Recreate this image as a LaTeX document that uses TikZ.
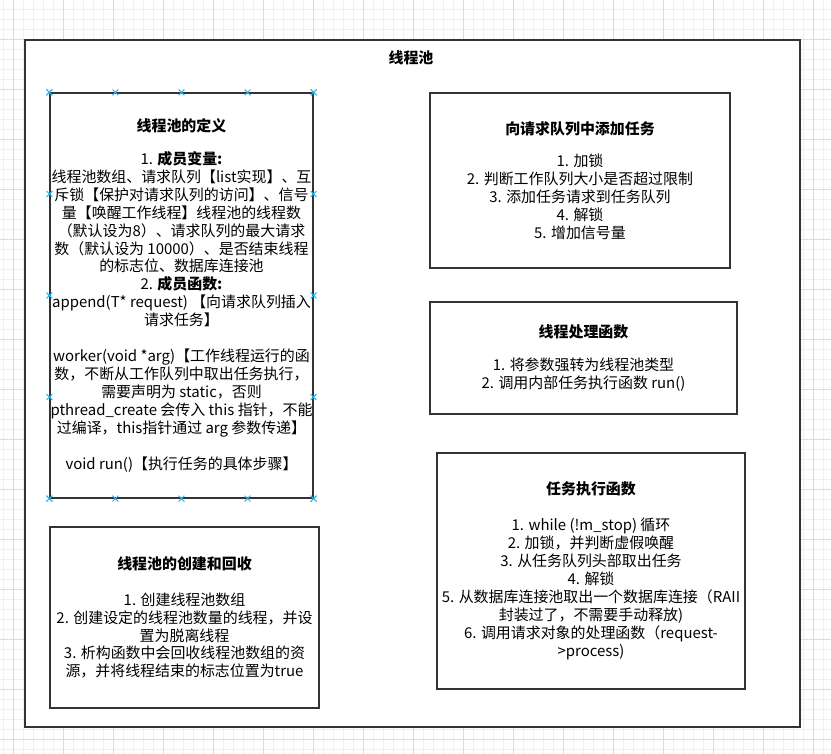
\documentclass[tikz,border=0pt]{standalone}
\usepackage{fontspec}
\setmainfont{Noto Sans CJK SC}
\usetikzlibrary{calc}
\definecolor{handleblue}{HTML}{29B6F2}
\definecolor{gridminor}{HTML}{F0F0F0}
\definecolor{gridmajor}{HTML}{DCDCDC}

\begin{document}
\begin{tikzpicture}[x=1in,y=1in,
  panel/.style={draw=black!80, line width=0.9pt, fill=white, align=center,
    inner sep=0pt, font=\fontsize{11.25}{13.5}\selectfont},
  handle/.style={handleblue, line width=0.7pt}]
\useasboundingbox (0,0) rectangle (8.6563,7.8542);
\fill[white] (0,0) rectangle (8.6563,7.8542);
% grid
\foreach \gx in {3,13,...,823}
  \draw[gridminor, line width=0.5pt] ({\gx/96},0) -- ({\gx/96},7.8542);
\foreach \gy in {9,19,...,749}
  \draw[gridminor, line width=0.5pt] (0,{(754-\gy)/96}) -- (8.6563,{(754-\gy)/96});
\foreach \gx in {13,63,...,813}
  \draw[gridmajor, line width=0.5pt] ({\gx/96},0) -- ({\gx/96},7.8542);
\foreach \gy in {39,89,...,739}
  \draw[gridmajor, line width=0.5pt] (0,{(754-\gy)/96}) -- (8.6563,{(754-\gy)/96});
% outer frame
\node[panel, minimum width=8.0729in, minimum height=7.1563in] (pool) at (4.2969,3.8594) {};
\node[font=\bfseries\fontsize{11.25}{13.5}\selectfont] (pooltitle) at (4.2813,7.2500) {线程池};
% left column
\node[panel, minimum width=2.7396in, minimum height=4.2188in] (defn) at (1.8906,4.7760) {%
\textbf{线程池的定义}\\[11pt]
1. \textbf{成员变量:}\\
线程池数组、请求队列【list实现】、互\\
斥锁【保护对请求队列的访问】、信号\\
量【唤醒工作线程】线程池的线程数\\
（默认设为8）、请求队列的最大请求\\
数（默认设为 10000）、是否结束线程\\
的标志位、数据库连接池\\
2. \textbf{成员函数:}\\
append(T* request) 【向请求队列插入\\
请求任务】\\[13.5pt]
worker(void *arg)【工作线程运行的函\\
数，不断从工作队列中取出任务执行，\\
需要声明为 static，否则\\
pthread\_create 会传入 this 指针，不能\\
过编译，this指针通过 arg 参数传递】\\[13.5pt]
void run()【执行任务的具体步骤】};
\node[panel, minimum width=2.8021in, minimum height=1.8854in] (create) at (1.9219,1.4219) {%
\textbf{线程池的创建和回收}\\[13.5pt]
1. 创建线程池数组\\
2. 创建设定的线程池数量的线程，并设\\
置为脱离线程\\
3. 析构函数中会回收线程池数组的资\\
源，并将线程结束的标志位置为true};
% right column
\node[panel, minimum width=3.1250in, minimum height=1.8229in] (append) at (6.0417,5.9740) {%
\textbf{向请求队列中添加任务}\\[11pt]
1. 加锁\\
2. 判断工作队列大小是否超过限制\\
3. 添加任务请求到任务队列\\
4. 解锁\\
5. 增加信号量};
\node[panel, minimum width=3.1979in, minimum height=1.1667in] (worker) at (6.0781,4.1250) {%
\textbf{线程处理函数}\\[12pt]
1. 将参数强转为线程池类型\\
2. 调用内部任务执行函数 run()};
\node[panel, minimum width=3.2083in, minimum height=2.4583in] (run) at (6.1563,1.9063) {%
\textbf{任务执行函数}\\[13.5pt]
1. while (!m\_stop) 循环\\
2. 加锁，并判断虚假唤醒\\
3. 从任务队列头部取出任务\\
4. 解锁\\
5. 从数据库连接池取出一个数据库连接（RAII\\
封装过了，不需要手动释放)\\
6. 调用请求对象的处理函数（request-\\
>process)};
% selection handles
\foreach \f in {0,0.25,0.5,0.75,1} {
  \path ($(defn.north west)!\f!(defn.north east)$) coordinate (h1)
        ($(defn.south west)!\f!(defn.south east)$) coordinate (h2)
        ($(defn.north west)!\f!(defn.south west)$) coordinate (h3)
        ($(defn.north east)!\f!(defn.south east)$) coordinate (h4);
  \foreach \h in {h1,h2,h3,h4}
    \draw[handle] ([shift={(-2.2pt,-2.2pt)}]\h) -- ([shift={(2.2pt,2.2pt)}]\h)
                  ([shift={(-2.2pt,2.2pt)}]\h) -- ([shift={(2.2pt,-2.2pt)}]\h);
}
\end{tikzpicture}
\end{document}
